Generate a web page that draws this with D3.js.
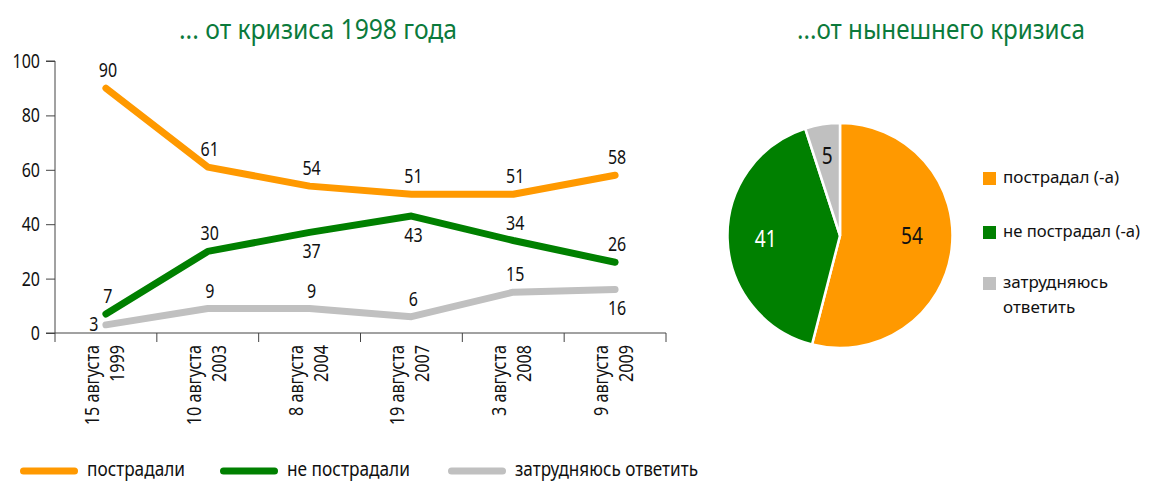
<!DOCTYPE html>
<html><head><meta charset="utf-8">
<script src="https://cdn.jsdelivr.net/npm/d3@7"></script>
<style>
body{margin:0;background:#fff;}
svg text{font-family:"Noto Sans","Open Sans",sans-serif;}
</style></head><body>
<svg id="c" width="1150" height="482"></svg>
<script>
const dates = ["15 августа|1999","10 августа|2003","8 августа|2004","19 августа|2007","3 августа|2008","9 августа|2009"];
const seriesNames = ["пострадали","не пострадали","затрудняюсь ответить"];
const suffered = [90,61,54,51,51,58];
const notSuffered = [7,30,37,43,34,26];
const hardToSay = [3,9,9,6,15,16];
const yTicks = [0,20,40,60,80,100];
const pieLabels = ["пострадал (-а)","не пострадал (-а)","затрудняюсь|ответить"];
const pieValues = [54,41,5];
const colors = ["#ff9900","#008000","#c0c0c0"];
const labelPos = [
  [-1,-1,-1,-1,-1,-1],
  [-1,-1,1,1,-1,-1],
  [0,-1,-1,-1,-1,1]
];

const svg = d3.select("#c");
const titleColor = "#0b7a3b";
const ink = "#111";

function squeeze(node, k, w){
  const len = node.getComputedTextLength();
  const target = w ? w : len*k;
  d3.select(node).attr("textLength", target).attr("lengthAdjust","spacingAndGlyphs");
}

const t1 = svg.append("text").attr("x",318).attr("y",39).attr("text-anchor","middle")
  .attr("fill",titleColor).attr("font-size",27).text("... от кризиса 1998 года");
squeeze(t1.node(),0,278);
const t2 = svg.append("text").attr("x",941).attr("y",39).attr("text-anchor","middle")
  .attr("fill",titleColor).attr("font-size",27).text("...от нынешнего кризиса");
squeeze(t2.node(),0,288);

const x = d3.scaleBand().domain(dates).range([55,666]);
const y = d3.scaleLinear().domain([0,100]).range([333,61]);
const cxOf = d => x(d)+x.bandwidth()/2;

const g = svg.append("g");
const ya = g.append("g").attr("transform","translate(55,0)")
  .call(d3.axisLeft(y).tickValues(yTicks).tickSize(9).tickPadding(6));
ya.selectAll("text").attr("font-size",20).attr("fill",ink).each(function(){squeeze(this,0.8);});
ya.selectAll("line,path").attr("stroke","#444");
ya.select("path").attr("d","M-9,61H0V333H-9");
const xa = g.append("g").attr("transform","translate(0,333)")
  .call(d3.axisBottom(x).tickSize(0).tickFormat(""));
xa.select("path").attr("stroke","#444").attr("d","M55,0H666");
const bounds = x.domain().map(d=>x(d)).concat([x.range()[1]]);
xa.selectAll(".b").data(bounds).enter().append("line")
  .attr("x1",d=>d).attr("x2",d=>d).attr("y1",0).attr("y2",9).attr("stroke","#444");
dates.forEach(d=>{
  const parts = d.split("|");
  const t = xa.append("text").attr("transform",`translate(${cxOf(d)},12) rotate(-90)`)
    .attr("text-anchor","end").attr("font-size",20).attr("fill",ink);
  const a = t.append("tspan").attr("x",0).attr("y",-7).text(parts[0]);
  const b = t.append("tspan").attr("x",0).attr("y",18).text(parts[1]);
  squeeze(a.node(),0.81); squeeze(b.node(),0.81);
});

const allSeries = [suffered, notSuffered, hardToSay];
const line = d3.line().x((d,i)=>cxOf(dates[i])).y(d=>y(d));
[2,1,0].forEach(s=>{
  g.append("path").datum(allSeries[s]).attr("d",line).attr("fill","none")
    .attr("stroke",colors[s]).attr("stroke-width",7).attr("stroke-linecap","round").attr("stroke-linejoin","round");
});
allSeries.forEach((vals,s)=>{
  vals.forEach((v,i)=>{
    const cx = cxOf(dates[i]);
    const p = labelPos[s][i];
    let tx = cx+2, ty = y(v) + (p<0 ? -11 : 26);
    if(p===0){ tx = cx-12; ty = y(v)+6; }
    const t = g.append("text").attr("x",tx).attr("y",ty).attr("text-anchor","middle")
      .attr("font-size",20).attr("fill",ink).text(v);
    squeeze(t.node(),0.8);
  });
});

const lineX = [20,220,448];
const textX = [87,287,515];
const textW = [98,123,183];
seriesNames.forEach((n,i)=>{
  svg.append("line").attr("x1",lineX[i]+3.5).attr("x2",lineX[i]+54.5).attr("y1",471).attr("y2",471)
    .attr("stroke",colors[i]).attr("stroke-width",7).attr("stroke-linecap","round");
  const t = svg.append("text").attr("x",textX[i]).attr("y",476).attr("font-size",19).attr("fill",ink).text(n);
  squeeze(t.node(),0,textW[i]);
});

const R = 112.5;
const pie = d3.pie().sort(null)(pieValues);
const arc = d3.arc().innerRadius(0).outerRadius(R);
const pg = svg.append("g").attr("transform","translate(840,235.5)");
pg.selectAll("path").data(pie).enter().append("path").attr("d",arc)
  .attr("fill",(d,i)=>colors[i]).attr("stroke","#fff").attr("stroke-width",2.5);
const labR = [0.645,0.66,0.72];
const labDy = [-1,9,8];
pie.forEach((d,i)=>{
  const a = (d.startAngle+d.endAngle)/2;
  const r = R*labR[i];
  const t = pg.append("text").attr("x",Math.sin(a)*r).attr("y",-Math.cos(a)*r+labDy[i])
    .attr("text-anchor","middle").attr("font-size",23)
    .attr("fill", i===1?"#fff":ink).text(d.data);
  squeeze(t.node(),0.83);
});
const ply = [183,237,288];
const plw = [116,137,0];
pieLabels.forEach((n,i)=>{
  svg.append("rect").attr("x",983).attr("y",ply[i]-11).attr("width",13).attr("height",13).attr("fill",colors[i]);
  const t = svg.append("text").attr("x",1003).attr("y",ply[i]).attr("font-size",17).attr("fill",ink);
  const parts = n.split("|");
  parts.forEach((p,j)=>{
    const ts = t.append("tspan").attr("x",1003).attr("y",ply[i]+j*25).text(p);
    if(plw[i]) squeeze(ts.node(),0,plw[i]);
  });
});
</script></body></html>
